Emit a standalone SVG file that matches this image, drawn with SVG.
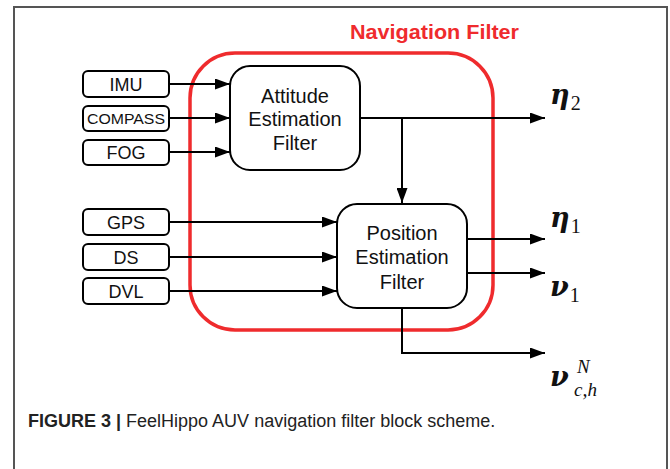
<svg xmlns="http://www.w3.org/2000/svg" width="670" height="469" viewBox="0 0 670 469">
<defs>
<marker id="ah" markerWidth="15" markerHeight="11" refX="15" refY="5.5" orient="auto" markerUnits="userSpaceOnUse">
<path d="M0,0 L15,5.5 L0,11 Z" fill="#000"/>
</marker>
<style>
.box{fill:#fff;stroke:#000;stroke-width:2}
.in{font-family:"Liberation Sans",Arial,sans-serif;font-size:18px;text-anchor:middle;fill:#111}
.blk{font-family:"Liberation Sans",Arial,sans-serif;font-size:20px;text-anchor:middle;fill:#111}
.arr{fill:none;stroke:#000;stroke-width:2;marker-end:url(#ah)}
.m{font-family:"DejaVu Serif","Liberation Serif",serif;font-style:italic;font-weight:bold;font-size:27px;fill:#111}
.s{font-family:"Liberation Serif","DejaVu Serif",serif;font-size:20px;fill:#111}
.si{font-family:"Liberation Serif","DejaVu Serif",serif;font-style:italic;font-size:19px;fill:#111}
</style>
</defs>
<rect width="670" height="469" fill="#fff"/>
<path d="M14,469 V7 H667 V469" fill="none" stroke="#555" stroke-width="2"/>
<g id="navigation-filter">
<rect x="190" y="53" width="303" height="277" rx="45" ry="45" fill="none" stroke="#ef2b2d" stroke-width="3.5"/>
<text x="350" y="39" font-family="Liberation Sans,Arial,sans-serif" font-weight="bold" font-size="20" fill="#ef2b2d" textLength="169" lengthAdjust="spacingAndGlyphs">Navigation Filter</text>
</g>
<g id="connectors">
<line class="arr" x1="169" y1="84" x2="230" y2="84"/>
<line class="arr" x1="169" y1="118" x2="230" y2="118"/>
<line class="arr" x1="169" y1="152" x2="230" y2="152"/>
<line class="arr" x1="169" y1="222" x2="337" y2="222"/>
<line class="arr" x1="169" y1="257" x2="337" y2="257"/>
<line class="arr" x1="169" y1="291" x2="337" y2="291"/>
<line class="arr" x1="360" y1="118" x2="545" y2="118"/>
<line class="arr" x1="402" y1="118" x2="402" y2="203"/>
<line class="arr" x1="467" y1="239" x2="545" y2="239"/>
<line class="arr" x1="467" y1="273" x2="545" y2="273"/>
<polyline class="arr" points="402,308 402,353 545,353"/>
</g>
<g id="imu"><rect class="box" x="83" y="71" width="86" height="26" rx="5"/><text class="in" x="126" y="91">IMU</text></g>
<g id="compass"><rect class="box" x="83" y="106" width="86" height="25" rx="5"/><text class="in" x="126" y="124" textLength="78" lengthAdjust="spacingAndGlyphs" style="font-size:14px">COMPASS</text></g>
<g id="fog"><rect class="box" x="83" y="140" width="86" height="25" rx="5"/><text class="in" x="126" y="159">FOG</text></g>
<g id="gps"><rect class="box" x="83" y="209" width="86" height="26" rx="5"/><text class="in" x="126" y="229">GPS</text></g>
<g id="ds"><rect class="box" x="83" y="244" width="86" height="26" rx="5"/><text class="in" x="126" y="264">DS</text></g>
<g id="dvl"><rect class="box" x="83" y="278" width="86" height="26" rx="5"/><text class="in" x="126" y="298">DVL</text></g>
<g id="attitude">
<rect class="box" x="230" y="66" width="130" height="104" rx="20"/>
<text class="blk" x="295" y="103">Attitude</text>
<text class="blk" x="295" y="126">Estimation</text>
<text class="blk" x="295" y="150">Filter</text>
</g>
<g id="position">
<rect class="box" x="337" y="204" width="130" height="104" rx="20"/>
<text class="blk" x="402" y="240">Position</text>
<text class="blk" x="402" y="264">Estimation</text>
<text class="blk" x="402" y="289">Filter</text>
</g>
<g id="outputs">
<text x="550" y="104"><tspan class="m">η</tspan><tspan class="s" dy="6" dx="1">2</tspan></text>
<text x="550" y="227"><tspan class="m">η</tspan><tspan class="s" dy="6" dx="1">1</tspan></text>
<text x="550" y="296"><tspan class="m">ν</tspan><tspan class="s" dy="6" dx="1">1</tspan></text>
<text x="550" y="386" class="m">ν</text>
<text x="577" y="373" class="si">N</text>
<text x="574" y="396" class="si">c<tspan class="s">,</tspan>h</text>
</g>
<g id="caption">
<text x="28" y="427" font-family="Liberation Sans,Arial,sans-serif" font-size="18" fill="#222"><tspan font-weight="bold">FIGURE 3 |</tspan> FeelHippo AUV navigation filter block scheme.</text>
</g>
</svg>
